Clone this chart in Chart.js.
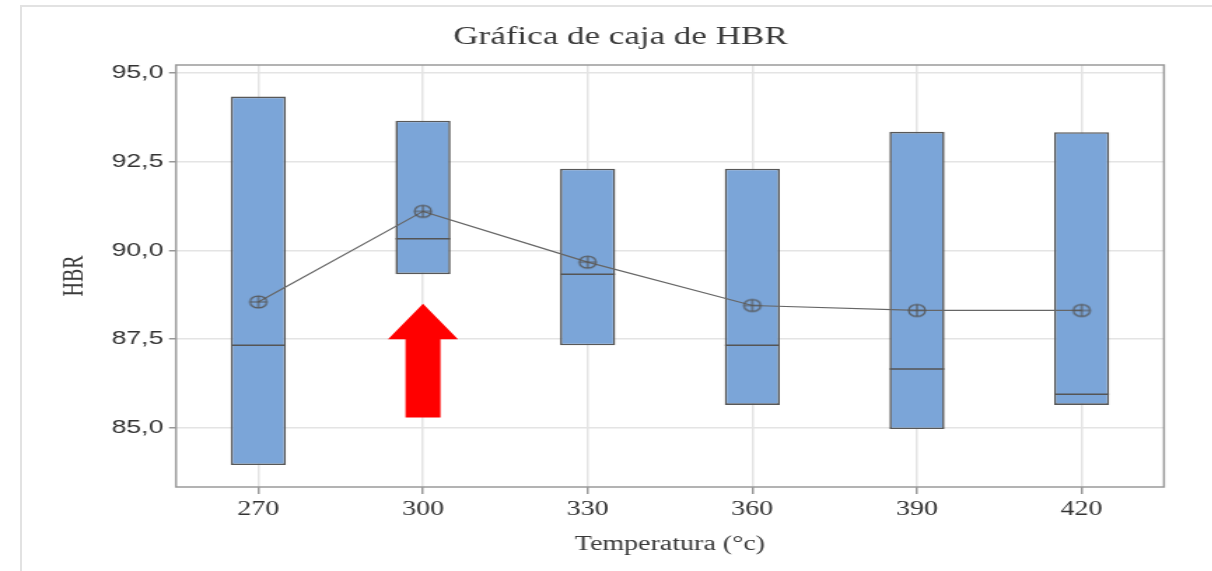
<!DOCTYPE html>
<html>
<head>
<meta charset="utf-8">
<script src="https://cdn.jsdelivr.net/npm/chart.js@4/dist/chart.umd.min.js"></script>
<style>
    html, body { margin: 0; padding: 0; background: #fff; overflow: hidden; }
    #frame { position: absolute; left: 20px; top: 5px; right: -10px; bottom: -10px;
             border-left: 2px solid #e2e2e2; border-top: 2px solid #e2e2e2; }
    /* the reference picture is stretched sideways, so the chart is drawn narrow and widened */
    #wrap { position: absolute; left: 0; top: 0; width: 866px; height: 571px;
            transform: scaleX(1.4); transform-origin: 0 0; }
</style>
</head>
<body>
<div id="frame"></div>
<div id="wrap"><canvas id="chart"></canvas></div>
<script>
var categories = ['270', '300', '330', '360', '390', '420'];
var boxLow = [83.96, 89.33, 87.33, 85.65, 84.97, 85.65];
var boxHigh = [94.33, 93.65, 92.30, 92.30, 93.34, 93.33];
var medians = [87.33, 90.33, 89.33, 87.33, 86.66, 85.95];
var means = [88.55, 91.10, 89.67, 88.45, 88.31, 88.31];
var yTicks = [85, 87.5, 90, 92.5, 95];
var arrowAt = { category: '300', tip: 88.5, neck: 87.5, tail: 85.3 };

var serif = "'Liberation Serif', 'Times New Roman', serif";
var sans = "'Liberation Sans', Arial, sans-serif";

// mean marker: circle with a cross
var marker = document.createElement('canvas');
marker.width = 16;
marker.height = 16;
(function() {
    var c = marker.getContext('2d');
    c.strokeStyle = '#555';
    c.lineWidth = 1.1;
    c.beginPath();
    c.arc(8, 8, 6, 0, Math.PI * 2);
    c.moveTo(2, 8); c.lineTo(14, 8);
    c.moveTo(8, 2); c.lineTo(8, 14);
    c.stroke();
})();

var plotFrame = {
    id: 'plotFrame',
    afterDraw: function(chart) {
        var a = chart.chartArea, ctx = chart.ctx;
        ctx.save();
        ctx.strokeStyle = '#9a9a9a';
        ctx.lineWidth = 1.5;
        ctx.strokeRect(a.left, a.top, a.right - a.left, a.bottom - a.top);
        ctx.restore();
    }
};

var redArrow = {
    id: 'redArrow',
    afterDatasetsDraw: function(chart) {
        var x = chart.scales.x.getPixelForValue(categories.indexOf(arrowAt.category));
        var y = chart.scales.y;
        var tip = y.getPixelForValue(arrowAt.tip);
        var neck = y.getPixelForValue(arrowAt.neck);
        var tail = y.getPixelForValue(arrowAt.tail);
        var ctx = chart.ctx;
        ctx.save();
        ctx.fillStyle = '#ff0000';
        ctx.beginPath();
        ctx.moveTo(x, tip);
        ctx.lineTo(x + 25, neck);
        ctx.lineTo(x + 12.5, neck);
        ctx.lineTo(x + 12.5, tail);
        ctx.lineTo(x - 12.5, tail);
        ctx.lineTo(x - 12.5, neck);
        ctx.lineTo(x - 25, neck);
        ctx.closePath();
        ctx.fill();
        ctx.restore();
    }
};

var boxes = boxLow.map(function(v, i) { return [v, boxHigh[i]]; });

new Chart('chart', {
    type: 'bar',
    data: {
        labels: categories,
        datasets: [{
            label: 'Caja',
            data: boxes,
            backgroundColor: '#7ba5d8',
            borderColor: '#585858',
            borderWidth: 1.6,
            borderSkipped: false,
            barPercentage: 0.335,
            categoryPercentage: 1,
            order: 3
        }, {
            type: 'line',
            label: 'Mediana',
            data: medians,
            showLine: false,
            pointStyle: 'line',
            pointRadius: 19.5,
            pointBorderWidth: 1.5,
            pointBorderColor: '#555',
            order: 2
        }, {
            type: 'line',
            label: 'Media',
            data: means,
            borderColor: '#666',
            borderWidth: 1.2,
            pointStyle: marker,
            pointRadius: 6,
            order: 1
        }]
    },
    options: {
        responsive: true,
        maintainAspectRatio: false,
        animation: false,
        events: [],
        layout: { padding: { left: 55, right: 34.6, top: 22, bottom: 4 } },
        plugins: {
            legend: { display: false },
            tooltip: { enabled: false },
            title: {
                display: true,
                text: 'Gráfica de caja de HBR',
                color: '#3a3a3a',
                font: { family: serif, size: 25, weight: 'normal' },
                padding: { top: 0, bottom: 13 }
            }
        },
        scales: {
            x: {
                offset: true,
                grid: { offset: false, color: '#e4e4e4', lineWidth: 1.5, tickLength: 7, tickColor: '#999' },
                border: { display: false },
                ticks: { color: '#333', font: { family: serif, size: 20 }, padding: 4, maxRotation: 0, autoSkip: false },
                title: { display: true, text: 'Temperatura (°c)', color: '#3a3a3a',
                         font: { family: serif, size: 20 }, padding: { top: 0, bottom: 10 } },
                afterFit: function(scale) { scale.height = 80; }
            },
            y: {
                min: 83.34,
                max: 95.22,
                grid: { color: '#e4e4e4', lineWidth: 1.5, tickLength: 5, tickColor: '#999' },
                border: { display: false },
                ticks: {
                    color: '#333',
                    font: { family: sans, size: 19 },
                    padding: 4,
                    callback: function(v) { return v.toFixed(1).replace('.', ','); }
                },
                afterBuildTicks: function(scale) {
                    scale.ticks = yTicks.map(function(v) { return { value: v }; });
                },
                title: { display: true, text: 'HBR', color: '#3a3a3a',
                         font: { family: serif, size: 20 }, padding: { top: -13, bottom: 0 } },
                afterFit: function(scale) { scale.width = 70.7; }
            }
        }
    },
    plugins: [plotFrame, redArrow]
});
</script>
</body>
</html>
